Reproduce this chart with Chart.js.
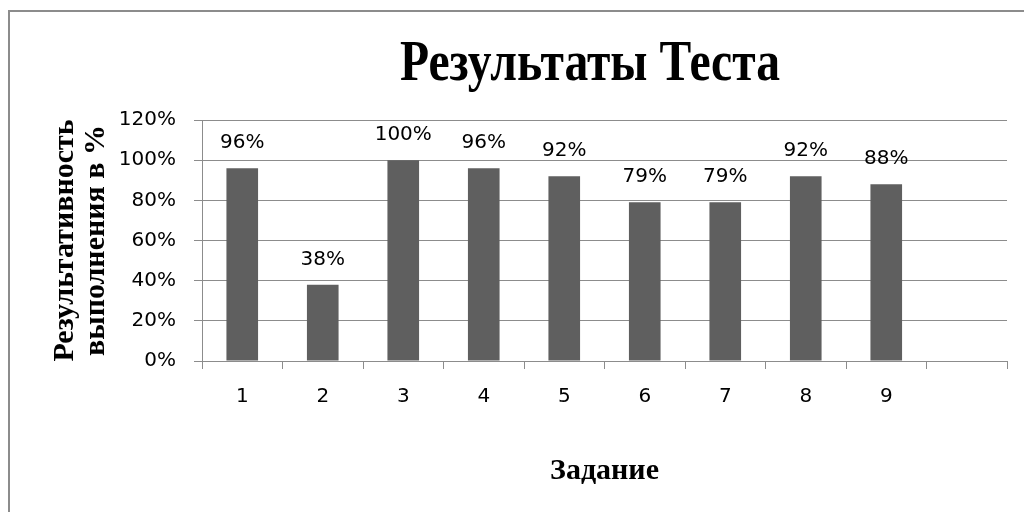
<!DOCTYPE html>
<html><head><meta charset="utf-8">
<script src="https://cdn.jsdelivr.net/npm/chart.js@4.4.1/dist/chart.umd.min.js"></script>
<style>html,body{margin:0;padding:0;background:#fff}canvas{display:block}</style>
</head><body>
<canvas id="c" width="1024" height="512"></canvas>
<script>
const chartTitle = 'Результаты Теста';
const xAxisTitle = 'Задание';
const yAxisTitle = ['Результативность', 'выполнения в %'];
const categories = ['1', '2', '3', '4', '5', '6', '7', '8', '9', ''];
const results = [96, 38, 100, 96, 92, 79, 79, 92, 88, null];
const yTicks = [0, 20, 40, 60, 80, 100, 120];
const pct = v => v + '%';

const lineColor = '#8c8c8c';
const labelFont = { family: 'DejaVu Sans', size: 20 };

const frame = {
  id: 'frame',
  beforeDraw(chart) {
    const ctx = chart.ctx;
    ctx.save();
    ctx.fillStyle = '#fff';
    ctx.fillRect(0, 0, chart.width, chart.height);
    ctx.strokeStyle = lineColor;
    ctx.lineWidth = 2;
    ctx.beginPath();
    ctx.moveTo(9, chart.height);
    ctx.lineTo(9, 11);
    ctx.lineTo(chart.width, 11);
    ctx.stroke();
    ctx.restore();
  }
};

const squeezedTitle = {
  id: 'squeezedTitle',
  afterDraw(chart) {
    const ctx = chart.ctx;
    ctx.save();
    ctx.font = 'bold 57px "Liberation Serif"';
    const w = ctx.measureText(chartTitle).width;
    ctx.translate(590, 80);
    ctx.scale(380 / w, 1);
    ctx.textAlign = 'center';
    ctx.textBaseline = 'alphabetic';
    ctx.fillStyle = '#000';
    ctx.fillText(chartTitle, 0, 0);
    ctx.restore();
  }
};

const valueLabels = {
  id: 'valueLabels',
  afterDatasetsDraw(chart) {
    const ctx = chart.ctx;
    const meta = chart.getDatasetMeta(0);
    ctx.save();
    ctx.font = labelFont.size + 'px "' + labelFont.family + '"';
    ctx.fillStyle = '#000';
    ctx.textAlign = 'center';
    ctx.textBaseline = 'alphabetic';
    meta.data.forEach((bar, i) => {
      const v = results[i];
      if (v === null || v === undefined) return;
      ctx.fillText(pct(v), bar.x, bar.y - 20);
    });
    ctx.restore();
  }
};

new Chart(document.getElementById('c'), {
  type: 'bar',
  data: {
    labels: categories,
    datasets: [{
      data: results,
      backgroundColor: '#5f5f5f',
      borderWidth: 0,
      categoryPercentage: 1,
      barPercentage: 0.393
    }]
  },
  options: {
    responsive: false,
    animation: false,
    devicePixelRatio: 1,
    layout: { padding: { top: 120, right: 17, bottom: 0, left: 0 } },
    plugins: {
      legend: { display: false },
      title: { display: false },
      tooltip: { enabled: false }
    },
    scales: {
      x: {
        grid: { display: true, drawOnChartArea: false, drawTicks: true, tickLength: 8, color: lineColor, offset: true },
        border: { display: true, color: lineColor },
        ticks: { font: labelFont, color: '#000', padding: 16, maxRotation: 0, autoSkip: false },
        title: {
          display: true, text: xAxisTitle, color: '#000',
          font: { family: 'Liberation Serif', size: 30, weight: 'bold' },
          padding: { top: 0, bottom: 23 }
        },
        afterFit(s) { s.height = 151; }
      },
      y: {
        min: 0, max: 120,
        afterBuildTicks(s) { s.ticks = yTicks.map(v => ({ value: v })); },
        ticks: { callback: pct, font: labelFont, color: '#000', padding: 18 },
        grid: { color: lineColor, tickLength: 8 },
        border: { color: lineColor },
        title: {
          display: true, text: yAxisTitle, color: '#000',
          font: { family: 'Liberation Serif', size: 30, weight: 'bold', lineHeight: 1.03 },
          padding: { top: 50, bottom: 0 }
        },
        afterFit(s) { s.width = 202; }
      }
    }
  },
  plugins: [frame, valueLabels, squeezedTitle]
});
</script>
</body></html>
